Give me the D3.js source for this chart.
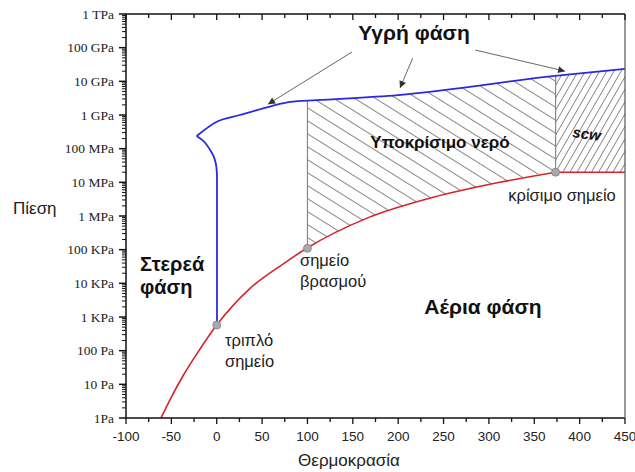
<!DOCTYPE html>
<html><head><meta charset="utf-8">
<script src="https://cdn.jsdelivr.net/npm/d3@7"></script>
<style>body{margin:0;background:#fff}svg{display:block}</style>
</head><body><svg id="c" width="635" height="472"></svg>
<script>
// ---- data ----
const xTicks = [-100,-50,0,50,100,150,200,250,300,350,400,450];
const yTickVals = [1,1e1,1e2,1e3,1e4,1e5,1e6,1e7,1e8,1e9,1e10,1e11,1e12];
const yTickLabels = ["1Pa","10 Pa","100 Pa","1 KPa","10 KPa","100 KPa","1 MPa","10 MPa","100 MPa","1 GPa","10 GPa","100 GPa","1 TPa"];
// vaporization / sublimation curve (°C, Pa)
const redT = [-61.5,-50,-36.8,-18.4,0,36.7,73.4,99.2,165,238.7,312,373.5];
const redP = [1,4.2,18.6,112,575,7100,38000,110000,850000,3.6e6,1.0e7,2.0e7];
// supercritical boundary (°C, Pa)
const critLineT = [373.5,450];
const critLineP = [2.0e7,2.0e7];
// melting curve, lower branch (°C, Pa): triple point up to ice III tip
const blueLowT = [0.3,0.3,0,-1.2,-3.5,-7.4,-14.8,-22.1];
const blueLowP = [575,1.2e7,2.2e7,3.8e7,6.0e7,9.3e7,1.7e8,2.37e8];
// melting curve, upper branch (°C, Pa)
const blueHighT = [-22.1,0,25.6,58.7,80.8,110,200,372.8,450];
const blueHighP = [2.37e8,6.3e8,1.0e9,1.78e9,2.45e9,2.75e9,3.9e9,1.45e10,2.35e10];
// special points
const ptNames = ["triple","boiling","critical"];
const ptT = [0,100,373.5];
const ptP = [575,110000,2.0e7];
// arrows (from, to) in (°C, Pa)
const arrFromT = [149,216,285], arrFromP = [7.4e10,4.9e10,8.5e10];
const arrToT = [56.5,202,384], arrToP = [2.1e9,6.3e9,2.0e10];

// ---- chart ----
const svg = d3.select("#c");
const L=126,R=625,T=14,B=418;
const x = d3.scaleLinear().domain([-100,450]).range([L,R]);
const y = d3.scaleLog().domain([1,1e12]).range([B,T]);
const red = redT.map((t,i)=>[t,redP[i]]);
const crit = critLineT.map((t,i)=>[t,critLineP[i]]);
const blueLow = blueLowT.map((t,i)=>[t,blueLowP[i]]);
const blueHigh = blueHighT.map((t,i)=>[t,blueHighP[i]]);

const defs = svg.append("defs");
const p1 = defs.append("pattern").attr("id","h1").attr("patternUnits","userSpaceOnUse")
  .attr("width",20).attr("height",11).attr("patternTransform","rotate(32)");
p1.append("path").attr("d","M0,5.5H20").attr("stroke","#555").attr("stroke-width",0.7);
const p2 = defs.append("pattern").attr("id","h2").attr("patternUnits","userSpaceOnUse")
  .attr("width",20).attr("height",6.2).attr("patternTransform","rotate(-60)");
p2.append("path").attr("d","M0,3.1H20").attr("stroke","#555").attr("stroke-width",0.7);
defs.append("marker").attr("id","ah").attr("viewBox","0 0 10 10").attr("refX",10).attr("refY",5)
  .attr("markerWidth",9).attr("markerHeight",7).attr("markerUnits","userSpaceOnUse").attr("orient","auto")
  .append("path").attr("d","M0,0L10,5L0,10Z").attr("fill","#333");

const lineMX = d3.line().x(d=>x(d[0])).y(d=>y(d[1])).curve(d3.curveMonotoneX);
const lineMY = d3.line().x(d=>x(d[0])).y(d=>y(d[1])).curve(d3.curveMonotoneY);
const lineLin = d3.line().x(d=>x(d[0])).y(d=>y(d[1]));

// region between melting (upper) and vaporization curves, used as clip
const upper = blueHigh.filter(d=>d[0]>=0);
const lower = red.filter(d=>d[0]>=0).concat(crit.slice(1));
const regionD = lineMX(upper) + "L" + lineMX(lower.slice().reverse()).slice(1) + "Z";
defs.append("clipPath").attr("id","reg").append("path").attr("d",regionD);

const g = svg.append("g").attr("clip-path","url(#reg)");
g.append("rect").attr("x",x(ptT[1])).attr("y",T).attr("width",x(ptT[2])-x(ptT[1])).attr("height",B-T).attr("fill","url(#h1)");
g.append("rect").attr("x",x(ptT[2])).attr("y",T).attr("width",x(450)-x(ptT[2])).attr("height",B-T).attr("fill","url(#h2)");
[ptT[1],ptT[2]].forEach(t=>g.append("line").attr("x1",x(t)).attr("x2",x(t)).attr("y1",T).attr("y2",B)
  .attr("stroke","#888").attr("stroke-width",1.2));

// curves
svg.append("path").attr("d",lineMX(red)).attr("fill","none").attr("stroke","#d8232a").attr("stroke-width",1.6);
svg.append("path").attr("d",lineLin(crit)).attr("fill","none").attr("stroke","#d8232a").attr("stroke-width",1.6);
svg.append("path").attr("d",lineMY(blueLow)).attr("fill","none").attr("stroke","#2a2ae0").attr("stroke-width",1.8);
svg.append("path").attr("d",lineMX(blueHigh)).attr("fill","none").attr("stroke","#2a2ae0").attr("stroke-width",1.8);

// points
ptT.forEach((t,i)=>svg.append("circle").attr("cx",x(t)).attr("cy",y(ptP[i])).attr("r",4)
  .attr("fill","#a9a9a9").attr("stroke","#808080").attr("stroke-width",0.8));

// arrows
arrFromT.forEach((t,i)=>svg.append("line").attr("x1",x(t)).attr("y1",y(arrFromP[i]))
  .attr("x2",x(arrToT[i])).attr("y2",y(arrToP[i])).attr("stroke","#555").attr("stroke-width",0.9)
  .attr("marker-end","url(#ah)"));

// axes
const ax = svg.append("g").attr("fill","none").attr("stroke","#111");
ax.append("line").attr("x1",L).attr("x2",R).attr("y1",B).attr("y2",B).attr("stroke-width",1.5);
ax.append("line").attr("x1",L).attr("x2",R).attr("y1",T).attr("y2",T).attr("stroke-width",1.5);
ax.append("line").attr("x1",L).attr("x2",L).attr("y1",T).attr("y2",B).attr("stroke-width",1.5);
ax.append("line").attr("x1",R).attr("x2",R).attr("y1",T).attr("y2",B).attr("stroke","#555").attr("stroke-width",1.2);

const xMinor = d3.range(-100,451,25);
xMinor.forEach(v=>{
  const major = v%50===0;
  ax.append("line").attr("x1",x(v)).attr("x2",x(v)).attr("y1",B).attr("y2",B+(major?6:4)).attr("stroke-width",1.3);
  ax.append("line").attr("x1",x(v)).attr("x2",x(v)).attr("y1",T).attr("y2",T+(major?6:4)).attr("stroke-width",1.3);
});
svg.append("g").selectAll("text").data(xTicks).join("text")
  .attr("x",d=>x(d)).attr("y",B+23).attr("text-anchor","middle")
  .attr("font-family","Liberation Sans, Arial, sans-serif").attr("font-size",13.5).attr("fill","#222")
  .text(d=>d);

yTickVals.forEach(v=>{
  ax.append("line").attr("x1",L-7).attr("x2",L).attr("y1",y(v)).attr("y2",y(v)).attr("stroke-width",1.5);
  if (v<1e12) for (let k=2;k<=9;k++) ax.append("line").attr("x1",L-4).attr("x2",L)
    .attr("y1",y(v*k)).attr("y2",y(v*k)).attr("stroke-width",1);
});
svg.append("g").selectAll("text").data(yTickVals).join("text")
  .attr("x",L-12).attr("y",d=>y(d)).attr("dy","0.35em").attr("text-anchor","end")
  .attr("font-family","Liberation Serif, Times New Roman, serif").attr("font-size",13.5).attr("fill","#222")
  .text((d,i)=>yTickLabels[i]);

// labels
const sans = "Liberation Sans, Arial, sans-serif";
function txt(s,px,py,opt={}){
  const t = svg.append("text").attr("x",px).attr("y",py).attr("font-family",sans)
    .attr("font-size",opt.size||13).attr("font-weight",opt.bold?"bold":"normal")
    .attr("font-style",opt.italic?"italic":"normal").attr("text-anchor",opt.anchor||"start")
    .attr("fill",opt.fill||"#222").text(s);
  if (opt.rot) t.attr("transform",`rotate(${opt.rot},${px},${py})`);
  return t;
}
txt("Πίεση",13,214,{size:17});
txt("Θερμοκρασία",349,466,{size:17,anchor:"middle"});
txt("Υγρή φάση",414,40,{size:21,bold:true,anchor:"middle",fill:"#111"});
txt("Υποκρίσιμο νερό",440,148,{size:17,bold:true,anchor:"middle",fill:"#111"});
txt("scw",586,139,{size:15,bold:true,italic:true,anchor:"middle",fill:"#111",rot:8});
txt("κρίσιμο σημείο",562,201,{size:16.5,anchor:"middle"});
txt("σημείο",300,266,{size:16.5});
txt("βρασμού",300,287,{size:16.5});
txt("τριπλό",225,346,{size:16.5});
txt("σημείο",225,367,{size:16.5});
txt("Στερεά",140,271,{size:20,bold:true,fill:"#111"});
txt("φάση",140,294,{size:20,bold:true,fill:"#111"});
txt("Αέρια φάση",483,314,{size:21,bold:true,anchor:"middle",fill:"#111"});
</script></body></html>
